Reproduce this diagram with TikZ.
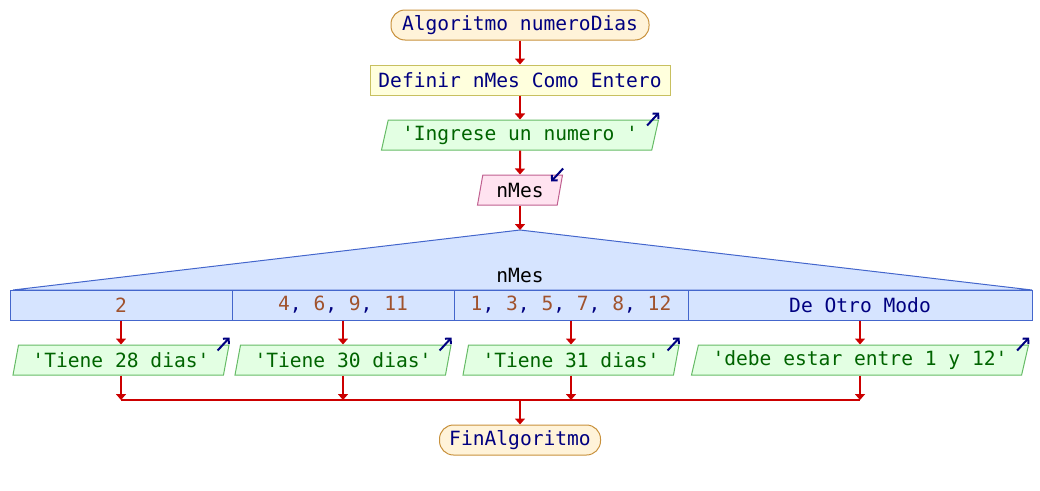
\documentclass[tikz,border=0pt]{standalone}
\usepackage{fontspec}
\setmonofont{DejaVu Sans Mono}
\usepackage{tikz}
\usetikzlibrary{shapes.geometric, arrows.meta}

\definecolor{termfill}{HTML}{FFF3D9}
\definecolor{termline}{HTML}{C8913C}
\definecolor{deffill}{HTML}{FFFFDD}
\definecolor{defline}{HTML}{C8C060}
\definecolor{outfill}{HTML}{E3FFE3}
\definecolor{outborder}{HTML}{66BB66}
\definecolor{infill}{HTML}{FFE3F0}
\definecolor{inborder}{HTML}{C06090}
\definecolor{selfill}{HTML}{D6E4FF}
\definecolor{selborder}{HTML}{4466CC}
\definecolor{flowred}{HTML}{CC0000}
\definecolor{kwblue}{HTML}{000080}
\definecolor{strgreen}{HTML}{006400}
\definecolor{numbrown}{HTML}{A0522D}

\newcommand{\cnum}[1]{\textcolor{numbrown}{#1}}

\tikzset{
  box/.style={font=\ttfamily\fontsize{19.6}{24}\selectfont, inner sep=0pt, minimum height=30pt, line width=1pt},
  term/.style={box, draw=termline, fill=termfill, rounded corners=14pt, text=kwblue},
  defbox/.style={box, draw=defline, fill=deffill, text=kwblue},
  io/.style={box, trapezium, trapezium left angle=70, trapezium right angle=110, trapezium stretches body},
  outbox/.style={io, draw=outborder, fill=outfill, text=strgreen},
  inbox/.style={io, draw=inborder, fill=infill, text=black},
  cell/.style={box, draw=selborder, fill=selfill, text=kwblue},
  flow/.style={draw=flowred, line width=2pt, -{Triangle[length=6pt,width=10pt]}},
  mergeline/.style={draw=flowred, line width=2pt},
  ioicon/.style={draw=kwblue, line width=2pt, -{Straight Barb[length=4pt,width=8pt]}},
}

\begin{document}
\begin{tikzpicture}[x=1pt, y=-1pt]
\useasboundingbox (0, 0) rectangle (1040, 490);

\node [term, minimum width=258] (start) at (520, 25) {Algoritmo numeroDias};
\node [defbox, minimum width=300] (def) at (520, 80) {Definir nMes Como Entero};
\node [outbox, minimum width=277] (ingreso) at (520, 135) {'Ingrese un numero '};
\node [inbox, minimum width=85] (nmes) at (520, 190) {nMes};

\draw [flow] (start) -- (def);
\draw [flow] (def) -- (ingreso);
\draw [flow] (ingreso) -- (nmes);

% segun
\coordinate (apex) at (520, 230);
\filldraw [fill=selfill, draw=selborder, line width=1pt] (apex) -- (1032, 290) -- (13, 290) -- cycle;
\node [box, text=black] (sel) at (520, 275) {nMes};
\draw [flow] (nmes) -- (apex);

\node [cell, minimum width=222] (c1) at (121, 305) {\cnum{2}};
\node [cell, minimum width=222] (c2) at (343, 305) {\cnum{4}, \cnum{6}, \cnum{9}, \cnum{11}};
\node [cell, minimum width=234] (c3) at (571, 305) {\cnum{1}, \cnum{3}, \cnum{5}, \cnum{7}, \cnum{8}, \cnum{12}};
\node [cell, minimum width=344] (c4) at (860, 305) {De Otro Modo};

\node [outbox, minimum width=216] (o1) at (121, 360) {'Tiene 28 dias'};
\node [outbox, minimum width=216] (o2) at (343, 360) {'Tiene 30 dias'};
\node [outbox, minimum width=216] (o3) at (571, 360) {'Tiene 31 dias'};
\node [outbox, minimum width=337] (o4) at (860, 360) {'debe estar entre 1 y 12'};

\draw [flow] (c1) -- (o1);
\draw [flow] (c2) -- (o2);
\draw [flow] (c3) -- (o3);
\draw [flow] (c4) -- (o4);

\coordinate (j1) at (121, 400);
\coordinate (j2) at (343, 400);
\coordinate (j3) at (571, 400);
\coordinate (j4) at (860, 400);
\coordinate (jm) at (520, 400);
\draw [flow] (o1) -- (j1);
\draw [flow] (o2) -- (j2);
\draw [flow] (o3) -- (j3);
\draw [flow] (o4) -- (j4);
\draw [mergeline] (j1) -- (j4);

\node [term, minimum width=161] (fin) at (520, 440) {FinAlgoritmo};
\draw [flow] (jm) -- (fin);

% marcas de entrada / salida
\foreach \o in {ingreso, o1, o2, o3, o4}
  \draw [ioicon] ([shift={(-12, 6)}]\o.top right corner) -- ++(12, -13);
\draw [ioicon] ([shift={(0, -6)}]nmes.top right corner) -- ++(-12, 13);
\end{tikzpicture}
\end{document}
